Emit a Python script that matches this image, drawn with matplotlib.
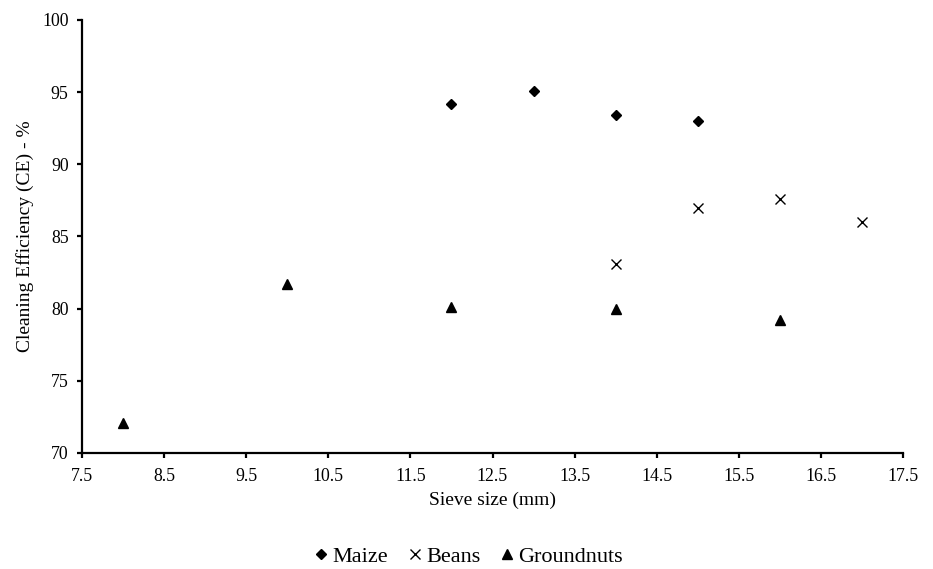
import matplotlib
matplotlib.use("Agg")
import matplotlib.pyplot as plt

# datos
maize_x = [12, 13, 14, 15]
maize_y = [94.2, 95.1, 93.4, 93.0]
beans_x = [14, 15, 16, 17]
beans_y = [83.1, 87.0, 87.6, 86.0]
gnut_x = [8, 10, 12, 14, 16]
gnut_y = [72.1, 81.7, 80.1, 80.0, 79.2]
xticks = [7.5, 8.5, 9.5, 10.5, 11.5, 12.5, 13.5, 14.5, 15.5, 16.5, 17.5]
yticks = [70, 75, 80, 85, 90, 95, 100]

plt.rcParams['font.family'] = ['Liberation Serif', 'DejaVu Serif']

fig = plt.figure(figsize=(9.33, 5.69), dpi=100)
ax = fig.add_axes([0.0879, 0.204, 0.880, 0.761])

ax.plot(maize_x, maize_y, 'D', color='black', markersize=5, linestyle='none', label='Maize')
ax.plot(beans_x, beans_y, 'x', color='black', markersize=7, markeredgewidth=1.0, linestyle='none', label='Beans')
ax.plot(gnut_x, gnut_y, '^', color='black', markersize=7.5, linestyle='none', label='Groundnuts')

ax.set_xlim(7.5, 17.5)
ax.set_ylim(70, 100)
ax.set_xticks(xticks)
ax.set_xticklabels([f"{t:.1f}" for t in xticks])
ax.set_yticks(yticks)

for s in ['top', 'right']:
    ax.spines[s].set_visible(False)
for s in ['left', 'bottom']:
    ax.spines[s].set_linewidth(1.6)
ax.tick_params(direction='out', length=3.6, width=1.6, labelsize=12.8)
ax.tick_params(axis='y', pad=6)
ax.tick_params(axis='x', pad=7)

ax.set_xlabel('Sieve size (mm)', fontsize=14, labelpad=5)
ax.set_ylabel('Cleaning Efficiency (CE) - %', fontsize=14, labelpad=6)

fig.legend(loc='center', bbox_to_anchor=(0.5, 0.022), ncol=3, frameon=False, fontsize=16,
           handletextpad=0.0, columnspacing=0.7, handlelength=1.0)

fig.savefig('out.png', dpi=100)
